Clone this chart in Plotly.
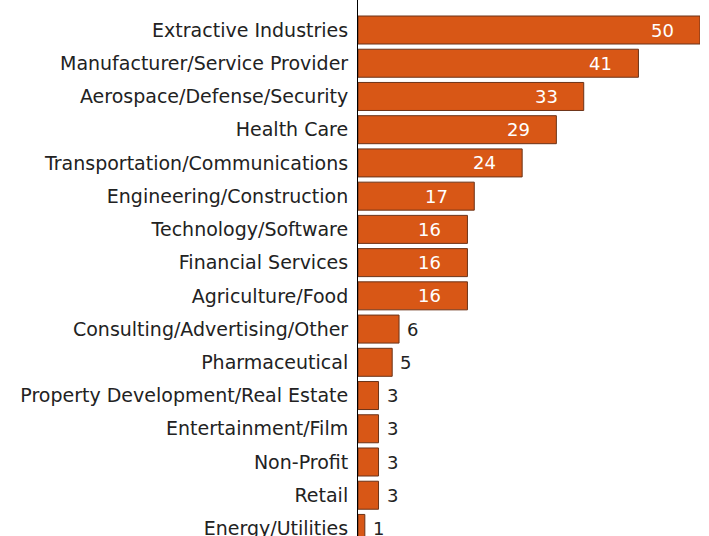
import plotly.graph_objects as go

categories = [
    "Extractive Industries",
    "Manufacturer/Service Provider",
    "Aerospace/Defense/Security",
    "Health Care",
    "Transportation/Communications",
    "Engineering/Construction",
    "Technology/Software",
    "Financial Services",
    "Agriculture/Food",
    "Consulting/Advertising/Other",
    "Pharmaceutical",
    "Property Development/Real Estate",
    "Entertainment/Film",
    "Non-Profit",
    "Retail",
    "Energy/Utilities",
]
counts = [50, 41, 33, 29, 24, 17, 16, 16, 16, 6, 5, 3, 3, 3, 3, 1]

FONT = "DejaVu Sans"
ORANGE = "#D85716"

fig = go.Figure()
fig.add_trace(go.Bar(
    x=counts, y=categories, orientation="h",
    marker=dict(color=ORANGE, line=dict(color="#6b3318", width=1)),
    hoverinfo="skip",
))

# value labels: white inside the long bars, dark just outside the short ones
for c, v in zip(categories, counts):
    inside = v >= 10
    fig.add_annotation(
        x=v, y=c, text=str(v), showarrow=False,
        xanchor="right" if inside else "left",
        xshift=-24 if inside else 6,
        font=dict(family=FONT, size=18, color="white" if inside else "#222222"),
    )

n = len(categories)
fig.update_layout(
    width=709, height=536,
    margin=dict(l=358, r=9, t=0, b=0),
    paper_bgcolor="white", plot_bgcolor="white",
    bargap=0.157, showlegend=False,
    font=dict(family=FONT, size=19, color="#222222"),
    xaxis=dict(range=[0, 50], visible=False, fixedrange=True),
    yaxis=dict(
        range=[n - 1 + 0.227, -0.903], showline=True, linecolor="black", linewidth=1,
        showgrid=False, ticks="", ticklabelstandoff=5, fixedrange=True,
        automargin=False,
    ),
)
fig.write_html("out.html", config={"displayModeBar": False},
               post_script="document.body.style.margin='0';")
